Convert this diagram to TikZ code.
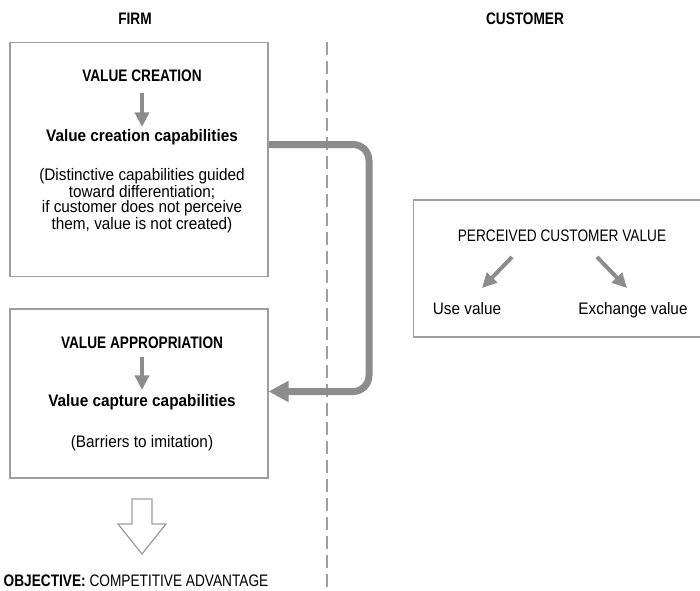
\documentclass[tikz,border=0pt]{standalone}
\usepackage{fontspec}
\setmainfont[FakeStretch=0.92]{Liberation Sans}
\newfontfamily\capsfont[FakeStretch=0.82]{Liberation Sans}
\usetikzlibrary{arrows.meta}
\usetikzlibrary{positioning}
\definecolor{lgray}{rgb}{0.62, 0.62, 0.62}
\definecolor{agray}{rgb}{0.55, 0.55, 0.55}

\begin{document}
\begin{tikzpicture}[x=0.75pt, y=-0.75pt,
    every node/.style={font=\fontsize{12.5}{11.25}\selectfont, inner sep=0pt, align=center,
      text height=11pt, text depth=1.5pt},
    caps/.style={font=\fontsize{12.5}{11.25}\selectfont\capsfont},
    bcaps/.style={font=\fontsize{12.5}{11.25}\selectfont\capsfont\bfseries},
    box/.style={draw=lgray, line width=0.9pt, minimum width=193.5pt},
    small arrow/.style={agray, line width=3pt, -{Triangle[length=11pt, width=10.5pt]}},
    big arrow/.style={agray, line width=5.25pt, rounded corners=12pt, -{Triangle[length=15pt, width=15pt]}}]
    \useasboundingbox (0, 0) rectangle (700, 590);

    \node [bcaps] (firm) at (135, 18) {FIRM};
    \node [bcaps] (customer) at (525, 18) {CUSTOMER};

    \draw [lgray, line width=1.5pt, dash pattern=on 9.75pt off 4.5pt] (327, 42) -- (327, 592);

    % firm side
    \node [box, minimum height=175.5pt] (creationbox) at (139, 159.5) {};
    \node [box, minimum height=126.75pt] (capturebox) at (139, 393.5) {};

    \node [bcaps] (creation) at (142, 75) {VALUE CREATION};
    \node [font=\fontsize{12.5}{11.25}\selectfont\bfseries] (creationcap) at (142, 135) {Value creation capabilities};
    \node [text height=, text depth=] (creationnote) at (142, 201) {(Distinctive capabilities guided\\toward differentiation;\\if customer does not perceive\\them, value is not created)};
    \draw [small arrow] (142, 93) -- (142, 127);

    \node [bcaps] (appropriation) at (142, 342) {VALUE APPROPRIATION};
    \node [font=\fontsize{12.5}{11.25}\selectfont\bfseries] (capturecap) at (142, 400) {Value capture capabilities};
    \node (capturenote) at (142, 441) {(Barriers to imitation)};
    \draw [small arrow] (142, 357) -- (142, 390);

    \coordinate (out) at (creationbox.east |- 0, 144.5);
    \coordinate (bend) at (369, 391.5);
    \draw [big arrow] (out) -| (bend) -- (capturebox.east |- bend);

    \draw [lgray, line width=0.9pt, fill=white] (132, 499) -- (152, 499) -- (152, 524) -- (166, 524)
      -- (142, 554) -- (118, 524) -- (132, 524) -- cycle;
    \node [caps] (objective) at (136, 580) {\textbf{OBJECTIVE:} COMPETITIVE ADVANTAGE};

    % customer side
    \node [box, minimum width=218pt, minimum height=102.75pt] (valuebox) at (559, 268.5) {};
    \node [caps] (perceived) at (562, 235) {PERCEIVED CUSTOMER VALUE};
    \node (usevalue) at (467, 308) {Use value};
    \node (exchange) at (633, 308) {Exchange value};
    \foreach \a/\b in {512/482, 597/627}
      \draw [small arrow] (\a, 257) -- (\b, 288);
\end{tikzpicture}
\end{document}
